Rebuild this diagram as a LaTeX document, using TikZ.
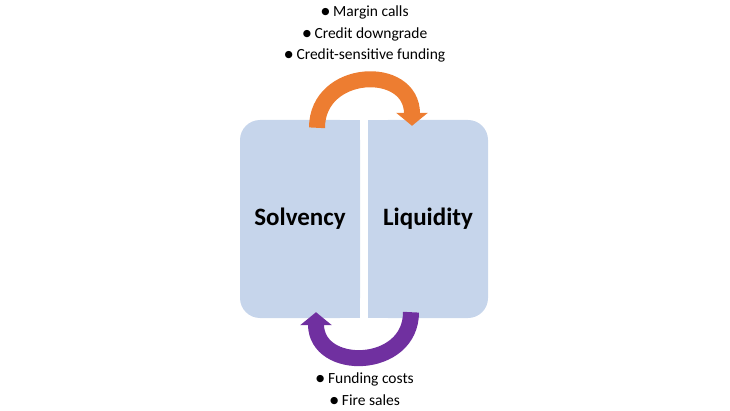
\documentclass[tikz,border=0pt]{standalone}
\usepackage{fontspec}
\setmainfont{Carlito}
\newfontfamily\dotfont{DejaVu Sans}
\usetikzlibrary{arrows.meta,positioning}
\definecolor{boxblue}{RGB}{198,213,235}
\definecolor{looporange}{RGB}{237,125,49}
\definecolor{looppurple}{RGB}{112,48,160}
\newcommand{\bul}{\raisebox{1.6pt}{\dotfont\fontsize{9.5}{10}\selectfont ●}\ }

\tikzset{
  halfbox/.style={fill=boxblue, rounded corners=20pt, minimum width=120pt,
    minimum height=198pt, inner sep=0pt},
  boxlabel/.style={font=\fontsize{25}{29}\selectfont\bfseries},
  loop/.style={line width=16pt, -{Triangle[width=31pt,length=13pt]}},
  bullets/.style={align=center, font=\fontsize{15.5}{21.5}\selectfont}
}

\begin{document}
\begin{tikzpicture}[x=1pt,y=1pt]
  \useasboundingbox (0,0) rectangle (730,410);
  % the two halves
  \node[halfbox] (solv) at (300,191) {};
  \fill[boxblue] (solv.north) rectangle (solv.south east);
  \node[halfbox] (liq) at (428,191) {};
  \fill[boxblue] (liq.north) rectangle (liq.south west);
  \node[boxlabel] at (solv) {Solvency};
  \node[boxlabel] at (liq) {Liquidity};
  % feedback loops
  \draw[loop, looporange] ([xshift=17pt,yshift=-8pt]solv.north) .. controls +(0,60) and +(0,62) .. ([xshift=-16pt,yshift=-6pt]liq.north);
  \draw[loop, looppurple] ([xshift=-17pt,yshift=6pt]liq.south) .. controls +(0,-58) and +(0,-60) .. ([xshift=16pt,yshift=6pt]solv.south);
  % channels
  \node[bullets] (upper) at (365,376) {\bul Margin calls\\\bul Credit downgrade\\\bul Credit-sensitive funding};
  \node[bullets] (lower) at (365,21) {\bul Funding costs\\\bul Fire sales};
\end{tikzpicture}
\end{document}
